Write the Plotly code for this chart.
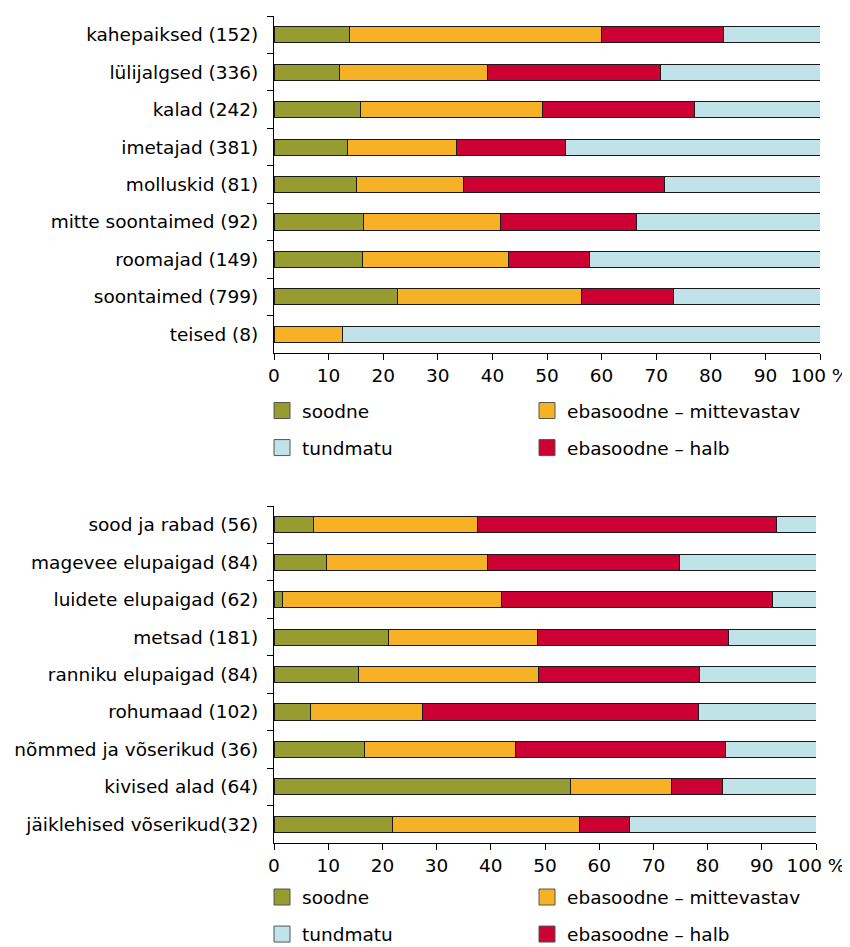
import plotly.graph_objects as go

# ---------------- data ----------------
cats_top = ["kahepaiksed (152)", "lülijalgsed (336)", "kalad (242)", "imetajad (381)",
            "molluskid (81)", "mitte soontaimed (92)", "roomajad (149)",
            "soontaimed (799)", "teised (8)"]
soodne_top = [13.8, 12.0, 15.8, 13.4, 15.1, 16.4, 16.2, 22.6, 0]
mittevastav_top = [46.1, 27.1, 33.4, 20.1, 19.6, 25.1, 26.8, 33.7, 12.5]
halb_top = [22.4, 31.7, 27.8, 19.9, 36.9, 24.9, 14.8, 16.9, 0]
tundmatu_top = [17.7, 29.2, 23.0, 46.6, 28.4, 33.6, 42.2, 26.8, 87.5]

cats_bot = ["sood ja rabad (56)", "magevee elupaigad (84)", "luidete elupaigad (62)",
            "metsad (181)", "ranniku elupaigad (84)", "rohumaad (102)",
            "nõmmed ja võserikud (36)", "kivised alad (64)", "jäiklehised võserikud(32)"]
soodne_bot = [7.2, 9.7, 1.6, 21.1, 15.5, 6.8, 16.7, 54.7, 21.9]
mittevastav_bot = [30.3, 29.6, 40.3, 27.5, 33.3, 20.6, 27.8, 18.6, 34.4]
halb_bot = [55.3, 35.6, 50.0, 35.3, 29.7, 50.9, 38.8, 9.5, 9.3]
tundmatu_bot = [7.2, 25.1, 8.1, 16.1, 21.5, 21.7, 16.7, 17.2, 34.4]

x_ticks = [0, 10, 20, 30, 40, 50, 60, 70, 80, 90, 100]
x_tick_labels = ["0", "10", "20", "30", "40", "50", "60", "70", "80", "90", "100 %"]

series_names = ["soodne", "ebasoodne – mittevastav", "ebasoodne – halb", "tundmatu"]
colors = ["#969c2f", "#f6b224", "#cc0033", "#c0e3ea"]

# page body has an 8px margin, so the figure is placed at (8, 8)
OFF = 8
W, H = 850 - OFF, 947 - OFF
FONT = "DejaVu Sans"
FS = 18.5


def fx(px):
    return (px - OFF) / W


def fy(px):
    return 1 - (px - OFF) / H


fig = go.Figure()

# legend column assignment: left column (soodne, tundmatu), right column (mittevastav, halb)
groups = [
    (cats_top, [soodne_top, mittevastav_top, halb_top, tundmatu_top], "x", "y",
     ["legend", "legend2", "legend2", "legend"], "t"),
    (cats_bot, [soodne_bot, mittevastav_bot, halb_bot, tundmatu_bot], "x2", "y2",
     ["legend3", "legend4", "legend4", "legend3"], "b"),
]
for cats, vals, xa, ya, legs, tag in groups:
    for i, name in enumerate(series_names):
        fig.add_trace(go.Bar(
            y=cats, x=vals[i], name=name, orientation="h",
            xaxis=xa, yaxis=ya, showlegend=False,
            marker=dict(color=colors[i], line=dict(color="#1a1a1a", width=1)),
            hoverinfo="x+y+name",
        ))
    # legend entries (square swatches like the original)
    for i, name in enumerate(series_names):
        fig.add_trace(go.Scatter(
            x=[None], y=[None], mode="markers", name=name, xaxis=xa, yaxis=ya,
            legend=legs[i], legendgroup=tag + str(i), showlegend=True,
            marker=dict(symbol="square", size=16, color=colors[i],
                        line=dict(color="#555555", width=1)),
        ))

xcommon = dict(range=[0, 100], tickvals=x_ticks, ticktext=x_tick_labels, ticks="outside",
               ticklen=6, tickcolor="#000", showline=True, linecolor="#000", linewidth=1,
               showgrid=False, zeroline=False,
               tickfont=dict(family=FONT, size=FS, color="#000"), fixedrange=True)
ycommon = dict(type="category", autorange="reversed", tickson="boundaries", ticks="outside",
               ticklen=6, tickcolor="#000", showline=True, linecolor="#000", linewidth=1,
               showgrid=False, tickfont=dict(family=FONT, size=FS, color="#000"),
               ticklabelstandoff=11, fixedrange=True)

legcommon = dict(orientation="v", xanchor="left", yanchor="middle", tracegroupgap=10,
                 font=dict(family=FONT, size=FS, color="#000"),
                 bgcolor="rgba(0,0,0,0)", borderwidth=0, itemclick=False, itemdoubleclick=False,
                 traceorder="grouped")

LX1 = fx(262)
LX2 = fx(527)
fig.update_layout(
    width=W, height=H,
    margin=dict(l=0, r=0, t=0, b=0, autoexpand=False),
    paper_bgcolor="white", plot_bgcolor="white",
    barmode="stack", bargap=0.57,
    showlegend=True,
    font=dict(family=FONT, size=FS, color="#000"),
    xaxis=dict(domain=[fx(274), fx(820)], anchor="y", **xcommon),
    yaxis=dict(domain=[fy(353), fy(16)], anchor="x", **ycommon),
    xaxis2=dict(domain=[fx(274), fx(816)], anchor="y2", **xcommon),
    yaxis2=dict(domain=[fy(843), fy(506)], anchor="x2", **ycommon),
    legend=dict(x=LX1, y=fy(429.5), **legcommon),
    legend2=dict(x=LX2, y=fy(429.5), **legcommon),
    legend3=dict(x=LX1, y=fy(916), **legcommon),
    legend4=dict(x=LX2, y=fy(916), **legcommon),
)

fig.write_html("out.html")
